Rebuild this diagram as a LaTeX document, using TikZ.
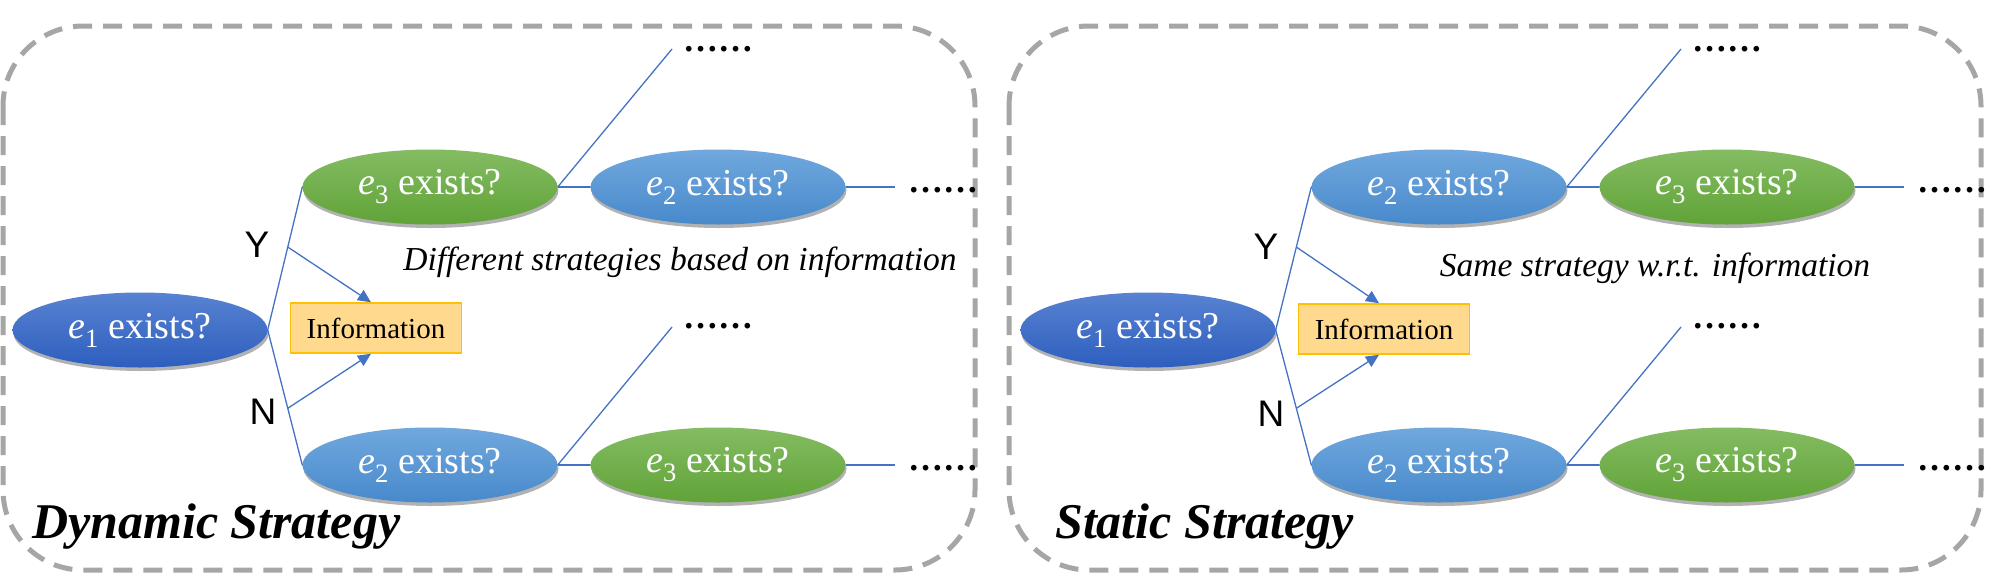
\documentclass[tikz,border=0pt]{standalone}
\usepackage{fontspec}
\usepackage{graphicx}
\setmainfont{Liberation Serif}
\newfontfamily\ynfont{Liberation Sans}
\usetikzlibrary{arrows.meta,shapes.geometric,shadows,calc}
\definecolor{panelgray}{RGB}{166,166,166}
\definecolor{darkTop}{RGB}{88,131,210}
\definecolor{darkBot}{RGB}{46,94,190}
\definecolor{blueTop}{RGB}{112,168,222}
\definecolor{blueBot}{RGB}{72,137,203}
\definecolor{greenTop}{RGB}{132,188,98}
\definecolor{greenBot}{RGB}{96,163,56}
\definecolor{lineblue}{RGB}{68,114,196}
\definecolor{infofill}{RGB}{255,217,142}
\definecolor{infodraw}{RGB}{255,192,0}
\newcommand\evar[1]{\textit{e}\textsubscript{#1}}
\newcommand\myqfont{\fontsize{38}{40}\selectfont}
\begin{document}
\begin{tikzpicture}[x=1pt,y=-1pt,
  panel/.style={draw=panelgray, line width=5pt, dash pattern=on 19pt off 11pt, rounded corners=80pt},
  qbase/.style={ellipse, minimum width=255pt, minimum height=75pt, inner sep=0pt, text=white, font=\myqfont,
    drop shadow={shadow xshift=1pt, shadow yshift=-3.5pt, opacity=0.3, fill=black}},
  darkq/.style={qbase, top color=darkTop, bottom color=darkBot},
  blueq/.style={qbase, top color=blueTop, bottom color=blueBot},
  greenq/.style={qbase, top color=greenTop, bottom color=greenBot},
  lnk/.style={draw=lineblue, line width=1.3pt},
  arr/.style={lnk, -{Triangle[length=13pt,width=12pt]}},
  dotsnode/.style={font=\bfseries\fontsize{35}{35}\selectfont, inner sep=0pt, anchor=base west},
  infobox/.style={draw=infodraw, fill=infofill, line width=1.5pt, minimum width=171pt, minimum height=50pt, inner sep=0pt, font=\fontsize{29}{32}\selectfont},
  yn/.style={font=\ynfont\fontsize{37}{40}\selectfont, inner sep=0pt},
  note/.style={font=\itshape\fontsize{33.5}{36}\selectfont, inner sep=0pt},
  titlenode/.style={font=\bfseries\itshape\fontsize{50}{54}\selectfont, inner sep=0pt, anchor=base west}
]
\useasboundingbox (0,0) rectangle (2016,581);

% ---------------- left panel ----------------
\draw[panel] (3,26) rectangle (975,570);
\node[darkq]  (Le1) at (140,330) {\evar{1} exists?};
\node[greenq] (Lt1) at (430,187) {\evar{3} exists?};
\node[blueq]  (Lt2) at (718,187) {\evar{2} exists?};
\node[blueq]  (Lb1) at (430,465) {\evar{2} exists?};
\node[greenq] (Lb2) at (718,465) {\evar{3} exists?};
\node[infobox] (Linfo) at (376,328) {Information};
\draw[lnk] (Le1.east) -- (Lt1.west);
\draw[lnk] (Le1.east) -- (Lb1.west);
\draw[arr] ($(Le1.east)!0.58!(Lt1.west)$) -- ($(Linfo.north)+(-5,0)$);
\draw[arr] ($(Le1.east)!0.58!(Lb1.west)$) -- ($(Linfo.south)+(-5,0)$);
\node[yn] (LY) at (257,245) {Y};
\node[yn] (LN) at (263,412) {N};
\draw[lnk] (Lt1.east) -- (Lt2.west);
\draw[lnk] (Lb1.east) -- (Lb2.west);
\coordinate (Ltd) at (672,49);
\coordinate (Lte) at (895,187);
\coordinate (Lbd) at (672,327);
\coordinate (Lbe) at (895,465);
\draw[lnk] (Lt1.east) -- (Ltd);
\draw[lnk] (Lt2.east) -- (Lte);
\draw[lnk] (Lb1.east) -- (Lbd);
\draw[lnk] (Lb2.east) -- (Lbe);
\node[dotsnode] (Ltdots) at (683,51) {……};
\node[dotsnode] (Ltedots) at (908,192) {……};
\node[dotsnode] (Lbdots) at (683,328) {……};
\node[dotsnode] (Lbedots) at (908,470) {……};
\node[note] (Lnote) at (680,262) {Different strategies based on information};
\node[titlenode] (Ltitle) at (32,538) {Dynamic Strategy};

% ---------------- right panel ----------------
\draw[panel] (1009,26) rectangle (1981,570);
\begin{scope}[xshift=1007pt]
\node[darkq]  (Re1) at (141,330) {\evar{1} exists?};
\node[blueq]  (Rt1) at (432,187) {\evar{2} exists?};
\node[greenq] (Rt2) at (720,187) {\evar{3} exists?};
\node[blueq]  (Rb1) at (432,465) {\evar{2} exists?};
\node[greenq] (Rb2) at (720,465) {\evar{3} exists?};
\node[infobox] (Rinfo) at (377,329) {Information};
\draw[lnk] (Re1.east) -- (Rt1.west);
\draw[lnk] (Re1.east) -- (Rb1.west);
\draw[arr] ($(Re1.east)!0.58!(Rt1.west)$) -- ($(Rinfo.north)+(-5,0)$);
\draw[arr] ($(Re1.east)!0.58!(Rb1.west)$) -- ($(Rinfo.south)+(-5,0)$);
\node[yn] (RY) at (259,247) {Y};
\node[yn] (RN) at (264,414) {N};
\draw[lnk] (Rt1.east) -- (Rt2.west);
\draw[lnk] (Rb1.east) -- (Rb2.west);
\coordinate (Rtd) at (674,49);
\coordinate (Rte) at (897,187);
\coordinate (Rbd) at (674,327);
\coordinate (Rbe) at (897,465);
\draw[lnk] (Rt1.east) -- (Rtd);
\draw[lnk] (Rt2.east) -- (Rte);
\draw[lnk] (Rb1.east) -- (Rbd);
\draw[lnk] (Rb2.east) -- (Rbe);
\node[dotsnode] (Rtdots) at (685,51) {……};
\node[dotsnode] (Rtedots) at (910,192) {……};
\node[dotsnode] (Rbdots) at (685,328) {……};
\node[dotsnode] (Rbedots) at (910,470) {……};
\node[note] (Rnote) at (648,268) {Same strategy w.r.t. information};
\node[titlenode] (Rtitle) at (48,538) {Static Strategy};
\end{scope}
\end{tikzpicture}
\end{document}
